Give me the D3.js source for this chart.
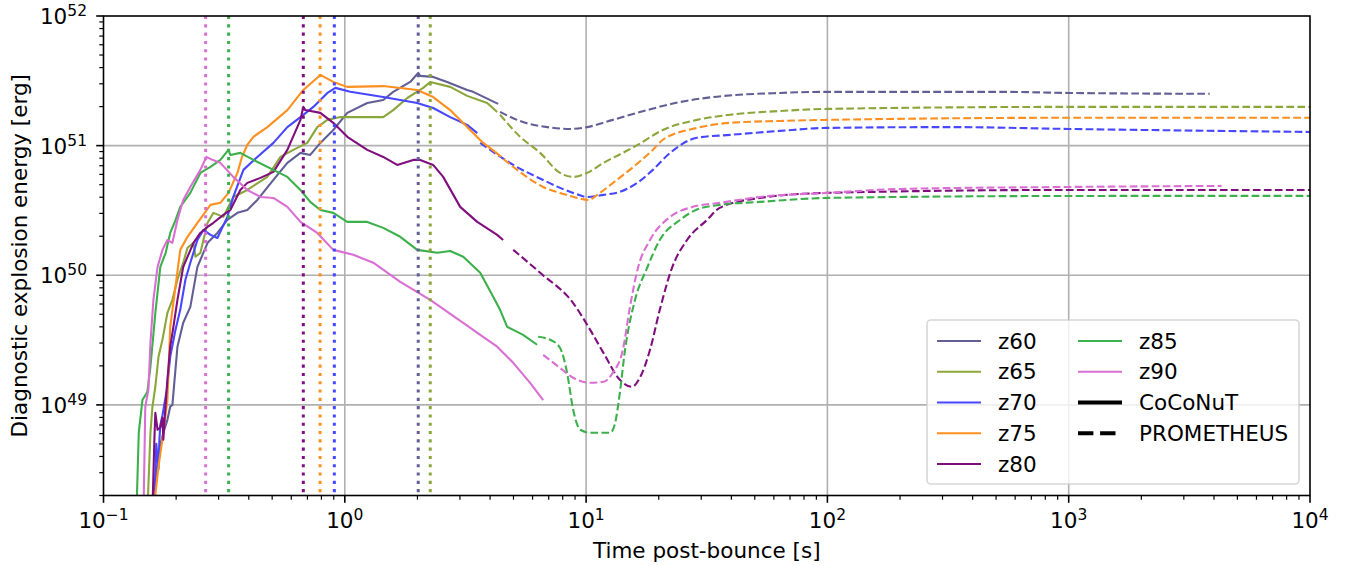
<!DOCTYPE html>
<html>
<head>
<meta charset="utf-8">
<script src="https://cdn.jsdelivr.net/npm/d3@7"></script>
<style>
body { margin: 0; background: #fff; }
svg { display: block; }
text { font-family: "DejaVu Sans", sans-serif; fill: #000; }
</style>
</head>
<body>
<svg width="1346" height="566"></svg>
<script>
// models and the time of shock revival / switch (dotted verticals), in s
var models = ["z60", "z65", "z70", "z75", "z80", "z85", "z90"];
var switchTimes = [2.015, 2.26, 0.905, 0.79, 0.673, 0.33, 0.265];

// [time post-bounce (s), diagnostic explosion energy (erg)]
var coco60 = [[0.1595,1.5e48],[0.166,3.16e48],[0.172,4.9e48],[0.177,6.1e48],[0.184,7.67e48],[0.189,9.66e48],[0.193,1.0e49],[0.1987,1.87e49],[0.2025,2.81e49],[0.214,4.3e49],[0.229,5.7e49],[0.245,1.16e50],[0.27,1.78e50],[0.2965,2.12e50],[0.326,2.67e50],[0.359,3.03e50],[0.3945,3.19e50],[0.434,3.81e50],[0.506,5.44e50],[0.578,7.36e50],[0.655,8.79e50],[0.719,8.48e50],[0.792,1.05e51],[0.896,1.32e51],[1.024,1.79e51],[1.239,2.13e51],[1.443,2.25e51],[1.587,2.6e51],[1.867,3.1e51],[2.015,3.64e51],[2.054,3.45e51],[2.324,3.39e51],[2.656,3.1e51],[3.215,2.69e51],[3.404,2.6e51],[4.32,2.1e51]];
var prom60 = [[4.4,1.82e51],[5.48,1.52e51],[6.9,1.39e51],[8.59,1.345e51],[10.1,1.39e51],[12.9,1.58e51],[17.9,1.88e51],[24.5,2.17e51],[33.6,2.37e51],[63.6,2.55e51],[100,2.6e51],[519,2.6e51],[1000,2.55e51],[3840,2.51e51]];

var coco65 = [[0.152,1.5e48],[0.1565,6.1e48],[0.1595,9.66e48],[0.164,1.38e49],[0.169,2.35e49],[0.1755,3.18e49],[0.184,5.13e49],[0.193,6.46e49],[0.2025,9.23e49],[0.214,1.25e50],[0.223,1.63e50],[0.236,1.78e50],[0.2405,1.39e50],[0.252,1.49e50],[0.27,2.54e50],[0.2855,3.03e50],[0.314,2.82e50],[0.345,4.02e50],[0.3945,4.55e50],[0.4775,5.74e50],[0.541,8.18e50],[0.612,9.27e50],[0.699,1.05e51],[0.769,1.39e51],[0.847,1.58e51],[0.958,1.66e51],[1.239,1.66e51],[1.443,1.66e51],[1.587,1.88e51],[1.815,2.33e51],[2.113,2.79e51],[2.259,3.1e51],[2.734,2.84e51],[3.215,2.42e51],[3.89,2.13e51],[4.28,1.82e51]];
var prom65 = [[4.4,1.73e51],[5.33,1.17e51],[6.45,8.79e50],[7.8,6.16e50],[8.84,5.74e50],[10.1,6.16e50],[11.8,7.36e50],[14.2,8.79e50],[16.3,1.01e51],[20.8,1.32e51],[28.8,1.58e51],[39.5,1.73e51],[63.6,1.85e51],[100,1.92e51],[1000,1.99e51],[10000,1.99e51]];

var coco70 = [[0.162,1.5e48],[0.1655,5.0e48],[0.169,3.2e48],[0.1705,5.39e48],[0.172,7.0e48],[0.1755,8.3e48],[0.183,1.31e49],[0.189,2.35e49],[0.1987,3.79e49],[0.208,5.41e49],[0.2185,9.23e49],[0.229,1.25e50],[0.245,1.87e50],[0.2595,2.24e50],[0.2775,2.05e50],[0.2965,1.94e50],[0.326,2.82e50],[0.345,4.02e50],[0.38,6.5e50],[0.434,8.18e50],[0.506,1.05e51],[0.578,1.39e51],[0.655,1.66e51],[0.741,1.99e51],[0.847,2.55e51],[0.914,2.79e51],[1.054,2.6e51],[1.443,2.37e51],[1.996,2.13e51],[2.324,1.95e51],[2.734,1.66e51],[3.215,1.445e51],[3.539,1.25e51]];
var prom70 = [[3.641,1.05e51],[4.99,7.1e50],[6.9,5.25e50],[7.8,4.72e50],[8.84,4.32e50],[10.1,4.02e50],[11.8,4.17e50],[13.8,4.4e50],[16.3,5.16e50],[18.9,6.5e50],[22.3,8.79e50],[28.8,1.15e51],[39.5,1.21e51],[63.6,1.3e51],[100,1.37e51],[322,1.39e51],[1000,1.345e51],[10000,1.275e51]];

var coco75 = [[0.161,1.5e48],[0.169,3.33e48],[0.177,6.1e48],[0.184,1.09e49],[0.189,4.0e49],[0.1987,8.14e49],[0.208,1.57e50],[0.223,1.98e50],[0.245,2.54e50],[0.2775,3.49e50],[0.305,3.62e50],[0.3295,4.32e50],[0.359,6.16e50],[0.375,8.2e50],[0.395,1.02e51],[0.418,1.17e51],[0.4775,1.39e51],[0.578,1.88e51],[0.673,2.69e51],[0.792,3.51e51],[0.896,3.1e51],[1.024,2.84e51],[1.443,2.88e51],[1.996,2.69e51],[2.324,2.37e51],[2.734,1.88e51],[3.215,1.39e51],[3.745,1.05e51],[4.2,8.95e50]];
var prom75 = [[4.2,8.95e50],[5.18,6.5e50],[6.64,4.8e50],[7.8,4.32e50],[9.18,3.95e50],[10.2,3.81e50],[11.4,4.32e50],[13.4,5.44e50],[15.7,6.85e50],[18.9,9.27e50],[20.8,1.11e51],[28.8,1.37e51],[39.5,1.5e51],[63.6,1.55e51],[100,1.58e51],[1000,1.64e51],[10000,1.64e51]];

var coco80 = [[0.1595,1.5e48],[0.161,2.89e48],[0.1625,5.39e48],[0.164,8.69e48],[0.1675,6.43e48],[0.172,6.7e48],[0.1755,7.96e48],[0.177,5.39e48],[0.179,7.67e48],[0.184,1.56e49],[0.189,2.81e49],[0.194,3.79e49],[0.2025,6.46e49],[0.214,1.16e50],[0.236,1.78e50],[0.252,2.12e50],[0.27,2.36e50],[0.2855,2.54e50],[0.314,2.92e50],[0.3355,3.19e50],[0.369,4.55e50],[0.3945,5.16e50],[0.447,5.64e50],[0.506,6.27e50],[0.578,9.27e50],[0.655,1.58e51],[0.673,1.99e51],[0.686,1.88e51],[0.792,1.79e51],[0.896,1.5e51],[1.024,1.17e51],[1.239,9.27e50],[1.443,8.18e50],[1.649,7.1e50],[1.921,7.76e50],[2.054,7.76e50],[2.324,7.1e50],[2.557,5.74e50],[3.007,3.37e50],[3.539,2.58e50],[4.28,2.05e50],[4.53,1.87e50]];
var prom80 = [[4.99,1.57e50],[6.45,1.045e50],[8.84,6.1e49],[10.4,3.79e49],[11.8,2.52e49],[13.8,1.56e49],[15.5,1.38e49],[16.7,1.62e49],[18.4,2.66e49],[20.2,5.41e49],[22.7,1.14e50],[26.2,1.87e50],[31.7,2.67e50],[35.8,3.31e50],[52.5,3.95e50],[100,4.32e50],[1000,4.55e50],[10000,4.55e50]];

var coco85 = [[0.137,1.5e48],[0.14,6.1e48],[0.145,1.09e49],[0.152,1.26e49],[0.1565,1.97e49],[0.164,5.13e49],[0.172,1.16e50],[0.181,1.49e50],[0.189,2.12e50],[0.199,2.67e50],[0.208,3.37e50],[0.229,4.32e50],[0.252,6.16e50],[0.2775,6.85e50],[0.305,7.76e50],[0.3295,9.27e50],[0.3355,8.48e50],[0.369,8.79e50],[0.418,7.76e50],[0.506,6.5e50],[0.578,5.74e50],[0.655,4.55e50],[0.719,3.68e50],[0.792,3.19e50],[0.896,3.03e50],[1.024,2.58e50],[1.239,2.58e50],[1.443,2.32e50],[1.698,1.98e50],[1.996,1.57e50],[2.415,1.49e50],[2.734,1.54e50],[3.096,1.39e50],[3.641,1.045e50],[4.12,6.82e49],[4.4,5.41e49],[4.71,4.0e49],[4.99,3.79e49],[5.48,3.47e49],[6.27,2.91e49]];
var prom85 = [[6.33,3.35e49],[7.1,3.18e49],[7.8,2.75e49],[8.34,1.77e49],[8.84,9.16e48],[9.45,6.43e48],[10.4,6.1e48],[12.6,6.1e48],[13.2,7.28e48],[13.8,1.24e49],[14.5,2.66e49],[15.95,6.46e49],[17.9,1.14e50],[20.2,1.87e50],[24.5,2.67e50],[28.5,3.19e50],[35.8,3.49e50],[52.5,3.68e50],[100,3.95e50],[1000,4.09e50],[10000,4.1e50]];

var coco90 = [[0.1465,1.5e48],[0.149,9.66e48],[0.1535,1.31e49],[0.1565,3.01e49],[0.161,6.46e49],[0.1675,1.16e50],[0.1755,1.57e50],[0.184,1.87e50],[0.193,1.78e50],[0.2025,2.67e50],[0.214,3.81e50],[0.229,4.8e50],[0.252,6.5e50],[0.267,8.18e50],[0.2775,7.9e50],[0.305,7.36e50],[0.345,5.74e50],[0.3945,4.55e50],[0.447,4.02e50],[0.506,3.95e50],[0.578,3.37e50],[0.655,2.58e50],[0.769,2.12e50],[0.896,1.57e50],[1.084,1.44e50],[1.312,1.25e50],[1.698,8.9e49],[2.259,6.46e49],[3.096,4.3e49],[3.641,3.47e49],[4.28,2.81e49],[4.99,2.11e49],[5.86,1.48e49],[6.64,1.09e49]];
var prom90 = [[6.64,2.43e49],[7.8,1.93e49],[8.84,1.62e49],[10.4,1.48e49],[11.8,1.51e49],[12.9,1.77e49],[14.2,2.66e49],[15.2,5.7e49],[16.4,1.14e50],[18.4,1.87e50],[22.3,2.82e50],[27.7,3.37e50],[35.9,3.62e50],[52.5,4.02e50],[100,4.32e50],[200,4.63e50],[1000,4.8e50],[4300,4.89e50]];

var cocoData = [coco60, coco65, coco70, coco75, coco80, coco85, coco90];
var promData = [prom60, prom65, prom70, prom75, prom80, prom85, prom90];

// axis ticks
var xDecades = [0.1, 1, 10, 100, 1000, 10000];
var xExponents = ["\u22121", "0", "1", "2", "3", "4"];
var yDecades = [1e49, 1e50, 1e51, 1e52];
var yExponents = ["49", "50", "51", "52"];

var colors = {
	z60: "#625f96",
	z65: "#8ba63a",
	z70: "#4747ff",
	z75: "#ff8f1f",
	z80: "#7f0f7f",
	z85: "#3bb04b",
	z90: "#da6fd3"
};

var svg = d3.select("svg"),
	width = +svg.attr("width"),
	height = +svg.attr("height"),
	pL = 103.5,
	pR = 1310,
	pT = 16,
	pB = 495.5,
	fs = 21.5,
	fsSup = 15.5;

var x = d3.scaleLog().domain([0.1, 1e4]).range([pL, pR]);
var y = d3.scaleLog().domain([2e48, 1e52]).range([pB, pT]);

svg.append("defs").append("clipPath").attr("id", "clip")
	.append("rect")
	.attr("x", pL).attr("y", pT)
	.attr("width", pR - pL).attr("height", pB - pT);

// grid
var grid = svg.append("g");
grid.selectAll("line.gx")
	.data(xDecades.slice(1, -1))
	.enter().append("line")
	.attr("x1", function (d) { return x(d); })
	.attr("x2", function (d) { return x(d); })
	.attr("y1", pT).attr("y2", pB)
	.attr("stroke", "#b0b0b0").attr("stroke-width", 1.6);
grid.selectAll("line.gy")
	.data(yDecades.slice(0, -1))
	.enter().append("line")
	.attr("y1", function (d) { return y(d); })
	.attr("y2", function (d) { return y(d); })
	.attr("x1", pL).attr("x2", pR)
	.attr("stroke", "#b0b0b0").attr("stroke-width", 1.6);

var plot = svg.append("g").attr("clip-path", "url(#clip)");

var lineSolid = d3.line()
	.x(function (d) { return x(d[0]); })
	.y(function (d) { return y(d[1]); });
var lineDashed = d3.line()
	.x(function (d) { return x(d[0]); })
	.y(function (d) { return y(d[1]); })
	.curve(d3.curveMonotoneX);

models.forEach(function (m, i) {
	plot.append("path")
		.attr("d", lineSolid(cocoData[i]))
		.attr("fill", "none")
		.attr("stroke", colors[m])
		.attr("stroke-width", 2.1)
		.attr("stroke-linejoin", "round");
	plot.append("path")
		.attr("d", lineDashed(promData[i]))
		.attr("fill", "none")
		.attr("stroke", colors[m])
		.attr("stroke-width", 2.1)
		.attr("stroke-dasharray", "7.7,3.3");
});

// dotted verticals
plot.selectAll("line.sw")
	.data(models)
	.enter().append("line")
	.attr("x1", function (d, i) { return x(switchTimes[i]); })
	.attr("x2", function (d, i) { return x(switchTimes[i]); })
	.attr("y1", pT).attr("y2", pB)
	.attr("stroke", function (d) { return colors[d]; })
	.attr("stroke-width", 3)
	.attr("stroke-dasharray", "3.1,5.2");

// spines
svg.append("rect")
	.attr("x", pL).attr("y", pT)
	.attr("width", pR - pL).attr("height", pB - pT)
	.attr("fill", "none").attr("stroke", "#000").attr("stroke-width", 1.6);

// ticks
var xMinor = [], yMinor = [];
xDecades.slice(0, -1).forEach(function (d) {
	for (var k = 2; k < 10; k++) xMinor.push(d * k);
});
[1e48, 1e49, 1e50, 1e51].forEach(function (d) {
	for (var k = 2; k < 10; k++) if (d * k >= 2e48) yMinor.push(d * k);
});

var ticks = svg.append("g").attr("stroke", "#000");
ticks.selectAll("line.xM").data(xDecades).enter().append("line")
	.attr("x1", function (d) { return x(d); }).attr("x2", function (d) { return x(d); })
	.attr("y1", pB).attr("y2", pB + 7.3).attr("stroke-width", 1.6);
ticks.selectAll("line.xm").data(xMinor).enter().append("line")
	.attr("x1", function (d) { return x(d); }).attr("x2", function (d) { return x(d); })
	.attr("y1", pB).attr("y2", pB + 4.2).attr("stroke-width", 1.2);
ticks.selectAll("line.yM").data(yDecades).enter().append("line")
	.attr("y1", function (d) { return y(d); }).attr("y2", function (d) { return y(d); })
	.attr("x1", pL).attr("x2", pL - 7.3).attr("stroke-width", 1.6);
ticks.selectAll("line.ym").data(yMinor).enter().append("line")
	.attr("y1", function (d) { return y(d); }).attr("y2", function (d) { return y(d); })
	.attr("x1", pL).attr("x2", pL - 4.2).attr("stroke-width", 1.2);

// tick labels
var xl = svg.selectAll("text.xl").data(xDecades).enter().append("text")
	.attr("x", function (d) { return x(d); })
	.attr("y", pB + 32)
	.attr("text-anchor", "middle")
	.style("font-size", fs + "px");
xl.append("tspan").text("10");
xl.append("tspan").attr("dy", -8).style("font-size", fsSup + "px")
	.text(function (d, i) { return xExponents[i]; });

var yl = svg.selectAll("text.yl").data(yDecades).enter().append("text")
	.attr("x", 87)
	.attr("y", function (d) { return y(d) + 8; })
	.attr("text-anchor", "end")
	.style("font-size", fs + "px");
yl.append("tspan").text("10");
yl.append("tspan").attr("dy", -8).style("font-size", fsSup + "px")
	.text(function (d, i) { return yExponents[i]; });

// axis titles
svg.append("text")
	.attr("x", (pL + pR) / 2).attr("y", 558)
	.attr("text-anchor", "middle")
	.style("font-size", fs + "px")
	.text("Time post-bounce [s]");
svg.append("text")
	.attr("transform", "translate(27," + (pT + pB) / 2 + ") rotate(-90)")
	.attr("text-anchor", "middle")
	.style("font-size", fs + "px")
	.text("Diagnostic explosion energy [erg]");

// legend
var lg = svg.append("g");
lg.append("rect")
	.attr("x", 927).attr("y", 320).attr("width", 372).attr("height", 164)
	.attr("rx", 4)
	.attr("fill", "#fff").attr("fill-opacity", 0.8)
	.attr("stroke", "#cccccc").attr("stroke-opacity", 0.8).attr("stroke-width", 1.6);

var legendItems = models.map(function (m) {
	return { label: m, color: colors[m], w: 2.1, dash: null };
}).concat([
	{ label: "CoCoNuT", color: "#000", w: 4.2, dash: null },
	{ label: "PROMETHEUS", color: "#000", w: 4.2, dash: "15.4,6.7" }
]);

legendItems.forEach(function (it, i) {
	var col = i < 5 ? 0 : 1,
		row = i < 5 ? i : i - 5,
		lx = col === 0 ? 937 : 1078,
		ly = 341 + row * 30.75;
	lg.append("line")
		.attr("x1", lx).attr("x2", lx + 44)
		.attr("y1", ly).attr("y2", ly)
		.attr("stroke", it.color).attr("stroke-width", it.w)
		.attr("stroke-dasharray", it.dash);
	lg.append("text")
		.attr("x", lx + 61).attr("y", ly + 7.5)
		.style("font-size", fs + "px")
		.text(it.label);
});
</script>
</body>
</html>
